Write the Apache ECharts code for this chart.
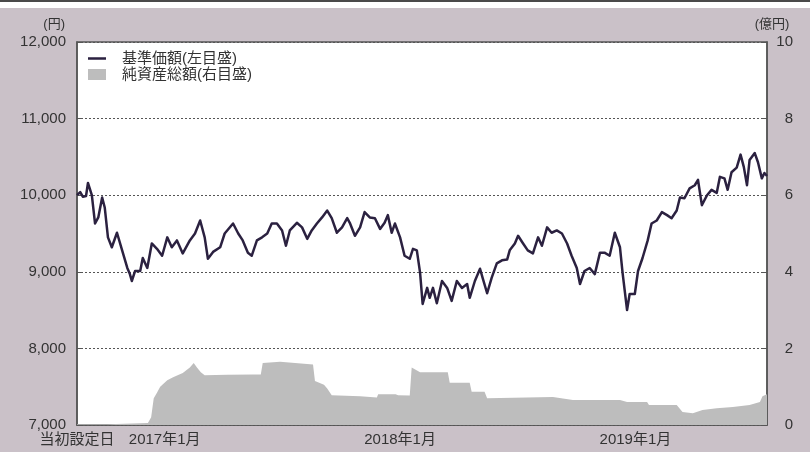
<!DOCTYPE html>
<html>
<head>
<meta charset="utf-8">
<script src="https://cdn.jsdelivr.net/npm/echarts@6/dist/echarts.min.js"></script>
<style>
html,body{margin:0;padding:0;background:#cac1c8;}
#wrap{position:relative;width:810px;height:452px;overflow:hidden;}
#topline{position:absolute;left:0;top:0;width:810px;height:2px;background:#4a4a4a;z-index:2;}
#topwhite{position:absolute;left:0;top:2px;width:810px;height:6px;background:#ffffff;z-index:2;}
#chart{position:absolute;left:0;top:0;width:810px;height:452px;}
</style>
</head>
<body>
<div id="wrap">
<div id="chart"></div>
<div id="topline"></div>
<div id="topwhite"></div>
</div>
<script>
// 基準価額 (円)
const navDates = [
'2016-08-18','2016-08-23','2016-08-27','2016-09-01','2016-09-04','2016-09-10','2016-09-15','2016-09-20','2016-09-26','2016-09-30',
'2016-10-05','2016-10-11','2016-10-19','2016-10-27','2016-11-04','2016-11-08','2016-11-11','2016-11-16','2016-11-24','2016-11-28',
'2016-12-05','2016-12-12','2016-12-20','2016-12-28','2017-01-05','2017-01-12','2017-01-20','2017-01-29','2017-02-09','2017-02-17',
'2017-02-25','2017-03-04','2017-03-09','2017-03-17','2017-03-28','2017-04-04','2017-04-17','2017-04-25','2017-05-02','2017-05-10',
'2017-05-16','2017-05-24','2017-06-01','2017-06-09','2017-06-16','2017-06-24','2017-07-02','2017-07-08','2017-07-14','2017-07-25',
'2017-08-02','2017-08-10','2017-08-17','2017-08-25','2017-09-02','2017-09-10','2017-09-17','2017-09-25','2017-10-03','2017-10-11',
'2017-10-15','2017-10-23','2017-10-31','2017-11-07','2017-11-15','2017-11-23','2017-12-01','2017-12-08','2017-12-13','2017-12-19',
'2017-12-24','2018-01-01','2018-01-08','2018-01-16','2018-01-21','2018-01-27','2018-02-01','2018-02-05','2018-02-12','2018-02-16',
'2018-02-21','2018-02-27','2018-03-07','2018-03-15','2018-03-22','2018-03-30','2018-04-07','2018-04-15','2018-04-19','2018-04-27',
'2018-05-05','2018-05-09','2018-05-16','2018-05-23','2018-05-31','2018-06-08','2018-06-16','2018-06-20','2018-06-28','2018-07-03',
'2018-07-10','2018-07-18','2018-07-26','2018-08-03','2018-08-09','2018-08-17','2018-08-24','2018-09-01','2018-09-09','2018-09-17',
'2018-09-24','2018-10-02','2018-10-07','2018-10-14','2018-10-22','2018-10-30','2018-11-07','2018-11-14','2018-11-22','2018-11-30',
'2018-12-08','2018-12-12','2018-12-19','2018-12-23','2018-12-31','2019-01-05','2019-01-12','2019-01-20','2019-01-26','2019-02-03',
'2019-02-11','2019-02-19','2019-02-26','2019-03-06','2019-03-11','2019-03-18','2019-03-26','2019-04-03','2019-04-08','2019-04-14',
'2019-04-22','2019-04-29','2019-05-07','2019-05-12','2019-05-19','2019-05-24','2019-05-30','2019-06-07','2019-06-13','2019-06-18',
'2019-06-23','2019-06-27','2019-07-05','2019-07-10','2019-07-16','2019-07-20','2019-07-24'
];
const navValues = [
10000,10040,9980,9990,10160,10000,9630,9710,9970,9840,
9450,9320,9510,9280,9050,8970,8880,9010,9010,9180,
9050,9370,9300,9210,9450,9320,9410,9240,9410,9500,
9670,9450,9170,9260,9320,9500,9630,9500,9410,9250,
9210,9410,9450,9500,9630,9630,9540,9340,9540,9640,
9580,9430,9540,9630,9710,9800,9700,9510,9580,9700,
9640,9470,9580,9780,9710,9700,9560,9640,9740,9510,
9630,9450,9210,9170,9300,9280,8990,8580,8790,8660,
8790,8590,8880,8790,8620,8880,8790,8840,8660,8880,
9040,8920,8720,8920,9110,9150,9160,9280,9370,9470,
9380,9280,9240,9450,9340,9580,9510,9540,9500,9370,
9210,9050,8840,9010,9050,8970,9250,9250,9210,9510,
9320,8990,8500,8710,8710,9010,9180,9410,9630,9670,
9780,9740,9700,9800,9970,9960,10090,10130,10200,9870,
10000,10070,10030,10240,10220,10070,10300,10360,10530,10370,
10130,10460,10550,10430,10220,10290,10250
];
// 純資産総額 (億円)
const aumDates = [
'2016-08-18','2016-10-05','2016-10-08','2016-12-06','2016-12-11','2016-12-15','2016-12-20','2016-12-25','2017-01-05','2017-01-14',
'2017-01-29','2017-02-09','2017-02-15','2017-02-20','2017-02-26','2017-03-04','2017-04-08','2017-05-18','2017-05-30','2017-06-02',
'2017-06-29','2017-08-19','2017-08-22','2017-09-05','2017-09-10','2017-09-17','2017-10-31','2017-11-26','2017-11-28','2017-12-25',
'2017-12-29','2018-01-16','2018-01-19','2018-02-01','2018-03-16','2018-03-19','2018-04-19','2018-04-22','2018-05-12','2018-05-16',
'2018-08-26','2018-09-26','2018-12-08','2018-12-19','2019-01-19','2019-01-22','2019-03-06','2019-03-15','2019-03-31','2019-04-15',
'2019-05-07','2019-06-01','2019-06-27','2019-07-13','2019-07-17','2019-07-24'
];
const aumValues = [
0.02,0.02,0.04,0.05,0.2,0.7,0.84,1.0,1.17,1.25,
1.36,1.5,1.62,1.5,1.38,1.3,1.31,1.32,1.32,1.62,
1.65,1.58,1.15,1.05,0.95,0.78,0.75,0.72,0.8,0.8,
0.78,0.77,1.5,1.38,1.38,1.1,1.1,0.87,0.87,0.7,
0.73,0.65,0.65,0.6,0.6,0.52,0.52,0.34,0.31,0.39,
0.44,0.47,0.52,0.6,0.75,0.8
];
const launchDate = '2016-08-18';
const endDate = '2019-07-24';
const xTickDates = ['2017-01-01','2018-01-01','2019-01-01'];
const xLabelDates = [launchDate].concat(xTickDates);
const leftTicks = {min:7000, max:12000, interval:1000};
const rightTicks = {min:0, max:10, interval:2};
const navName = '基準価額(左目盛)';
const aumName = '純資産総額(右目盛)';

const FONT = "'Liberation Sans','Noto Sans CJK JP',sans-serif";
function ts(s){ const p = s.split('-'); return new Date(+p[0], +p[1]-1, +p[2]).getTime(); }
const launchTs = ts(launchDate);
const lineIcon = 'path://M0,4.3H18V6.7H0Z M0,0H0.05V0.05H0Z M17.95,10.95H18V11H17.95Z';

const chart = echarts.init(document.getElementById('chart'), null, {renderer:'canvas'});
chart.setOption({
  backgroundColor:'#cac1c8',
  animation:false,
  textStyle:{fontFamily:FONT},
  grid:{left:77,right:43,top:42,bottom:27,show:true,backgroundColor:'#ffffff',borderColor:'#555555',borderWidth:1.5},
  legend:{
    orient:'vertical',left:88,top:51,padding:0,itemWidth:18,itemHeight:11,itemGap:1,
    textStyle:{fontFamily:FONT,fontSize:15,color:'#333333',lineHeight:15,padding:[0,0,0,11]},
    data:[{name:navName,icon:lineIcon},{name:aumName,icon:'rect'}]
  },
  xAxis:{
    type:'value',min:ts(launchDate),max:ts(endDate),
    axisLine:{show:true,lineStyle:{color:'#555555',width:1.5}},
    axisTick:{show:true,inside:true,length:5,customValues:xTickDates.map(ts),lineStyle:{color:'#555555',width:1}},
    axisLabel:{
      customValues:xLabelDates.map(ts),color:'#333333',fontSize:15,fontFamily:FONT,margin:7,hideOverlap:false,
      formatter:function(v){
        if (Math.abs(v-launchTs) < 86400000) return '当初設定日';
        const d=new Date(v);
        return d.getFullYear()+'年'+(d.getMonth()+1)+'月';
      }
    },
    splitLine:{show:false}
  },
  yAxis:[
    {
      type:'value',position:'left',min:leftTicks.min,max:leftTicks.max,interval:leftTicks.interval,
      name:'(円)',nameLocation:'end',nameGap:11,
      nameTextStyle:{color:'#333333',fontSize:13,fontFamily:FONT,align:'right',padding:[0,12,0,0]},
      axisLine:{show:true,lineStyle:{color:'#555555',width:1.5}},
      axisTick:{show:true,inside:true,length:5,lineStyle:{color:'#555555'}},
      axisLabel:{color:'#333333',fontSize:15,fontFamily:FONT,margin:11,
        formatter:function(v){return v.toLocaleString('en-US');}},
      splitLine:{show:true,lineStyle:{color:'#555555',type:[2,2],width:1}}
    },
    {
      type:'value',position:'right',min:rightTicks.min,max:rightTicks.max,interval:rightTicks.interval,
      name:'(億円)',nameLocation:'end',nameGap:11,
      nameTextStyle:{color:'#333333',fontSize:13,fontFamily:FONT,align:'center',padding:[0,0,0,10]},
      axisLine:{show:true,lineStyle:{color:'#555555',width:1.5}},
      axisTick:{show:true,inside:true,length:5,lineStyle:{color:'#555555'}},
      axisLabel:{color:'#333333',fontSize:15,fontFamily:FONT,margin:26,align:'right'},
      splitLine:{show:false}
    }
  ],
  series:[
    {
      name:aumName,type:'line',yAxisIndex:1,symbol:'none',showSymbol:false,
      color:'#bdbdbd',
      lineStyle:{width:0,color:'#bdbdbd'},
      areaStyle:{color:'#bdbdbd',opacity:1},
      data:aumDates.map((d,i)=>[ts(d),aumValues[i]]),
      z:1
    },
    {
      name:navName,type:'line',yAxisIndex:0,symbol:'none',showSymbol:false,
      color:'#2b2140',
      lineStyle:{width:2.5,color:'#2b2140',join:'round'},
      data:navDates.map((d,i)=>[ts(d),navValues[i]]),
      z:3
    }
  ]
});
</script>
</body>
</html>
